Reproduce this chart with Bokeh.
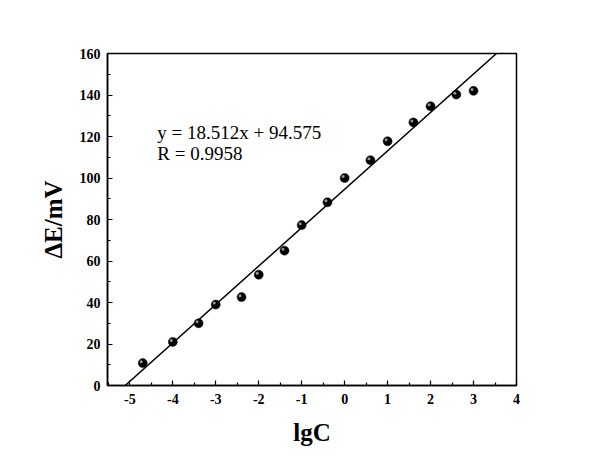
from bokeh.plotting import figure
from bokeh.models import Range1d, FixedTicker, ColumnDataSource
from bokeh.core.properties import value
from bokeh.transform import dodge
from bokeh.embed import file_html
from bokeh.resources import INLINE
import numpy as np

lgC = [-4.7, -4.0, -3.4, -3.0, -2.4, -2.0, -1.4, -1.0, -0.4, 0.0, 0.6, 1.0, 1.6, 2.0, 2.6, 3.0]
dE = [10.8, 21.0, 30.0, 39.0, 42.6, 53.4, 65.0, 77.3, 88.3, 100.0, 108.6, 117.7, 126.8, 134.6, 140.2, 142.0]
slope = 18.512
intercept = 94.575
r_value = 0.9958
x_ticks = [-5, -4, -3, -2, -1, 0, 1, 2, 3, 4]
y_ticks = [0, 20, 40, 60, 80, 100, 120, 140, 160]

FONT = "Liberation Serif"

p = figure(width=592, height=455, output_backend="svg", toolbar_location=None,
           x_range=Range1d(-5.52, 4.0), y_range=Range1d(0, 160),
           min_border_left=107, min_border_right=76, min_border_top=53, min_border_bottom=70)
p.xgrid.visible = False
p.ygrid.visible = False
p.outline_line_color = "black"
p.outline_line_width = 1.5
p.background_fill_color = "white"
p.border_fill_color = "white"

for ax in (p.xaxis[0], p.yaxis[0]):
    ax.axis_line_color = "black"
    ax.axis_line_width = 1.5
    ax.major_tick_in = 5
    ax.major_tick_out = 0
    ax.minor_tick_in = 3
    ax.minor_tick_out = 0
    ax.major_tick_line_width = 1.2
    ax.minor_tick_line_width = 1.2
    ax.major_label_text_font = FONT
    ax.major_label_text_font_style = "bold"
    ax.major_label_text_font_size = "14px"
    ax.major_label_text_color = "black"
    ax.axis_label_text_font = FONT
    ax.axis_label_text_font_style = "bold"
    ax.axis_label_text_font_size = "25px"
    ax.axis_label_text_color = "black"

p.xaxis.ticker = FixedTicker(ticks=x_ticks, minor_ticks=[t + 0.5 for t in x_ticks[:-1]] + [-5.5])
p.yaxis.ticker = FixedTicker(ticks=y_ticks, minor_ticks=[t + 10 for t in y_ticks[:-1]])
p.xaxis.major_label_overrides = {t: str(t) for t in x_ticks}
p.yaxis.major_label_overrides = {t: str(t) for t in y_ticks}
p.xaxis.axis_label = "lgC"
p.yaxis.axis_label = "ΔE/mV"
p.xaxis.major_label_standoff = 8
p.yaxis.major_label_standoff = 7
p.xaxis.axis_label_standoff = 12
p.yaxis.axis_label_standoff = 10

# fit line from coefficients, spanning the y range
x0 = (0 - intercept) / slope
x1 = (160 - intercept) / slope
xs = np.array([x0, x1])
p.line(xs, slope * xs + intercept, line_color="black", line_width=1.5)

src = ColumnDataSource(dict(x=lgC, y=dE))
p.scatter("x", "y", source=src, size=9, fill_color="black", line_color="black", line_width=0.5)
p.scatter(dodge("x", -0.035), dodge("y", 0.7), source=src, size=3, fill_color="#bbbbbb",
          line_color=None, alpha=0.8)

p.text(x=[-4.36, -4.36], y=[122.0, 111.7],
       text=[f"y = {slope}x + {intercept}", f"R = {r_value}"],
       text_font=value(FONT), text_font_size="19px", text_baseline="middle",
       text_align="left", text_color="black")

open("out.html", "w").write(file_html(p, INLINE))
